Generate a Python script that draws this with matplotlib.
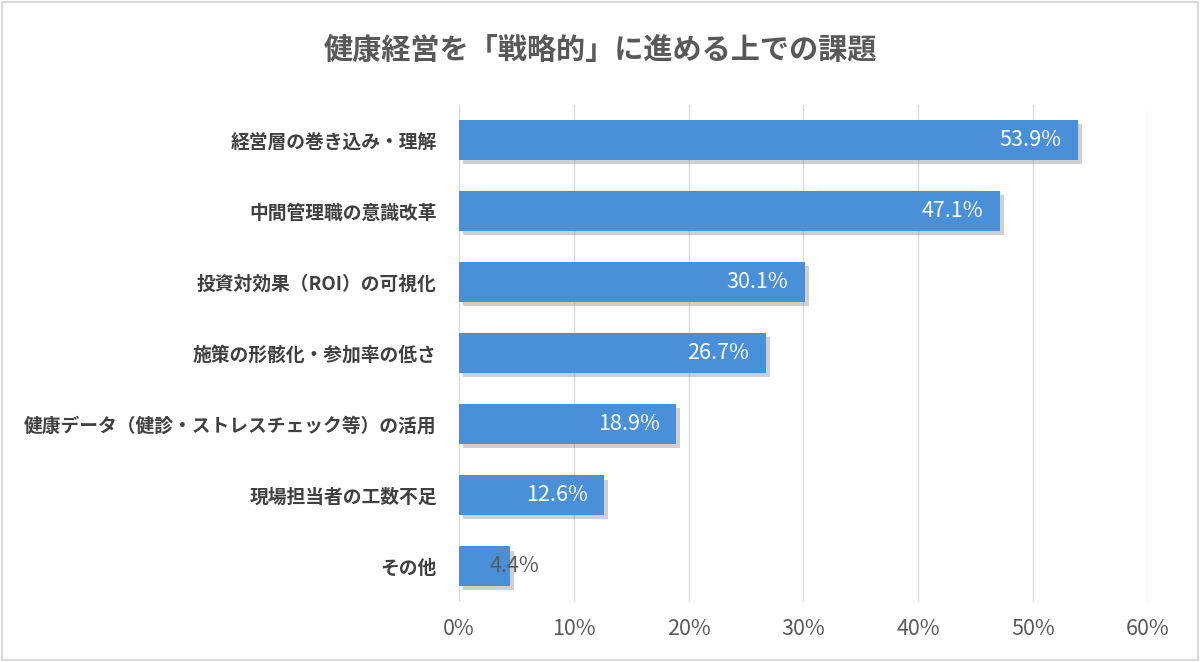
import matplotlib.pyplot as plt
import matplotlib.patheffects as pe

plt.rcParams['font.family'] = ['Noto Sans CJK JP', 'DejaVu Sans']

# data
labels = ['経営層の巻き込み・理解', '中間管理職の意識改革', '投資対効果（ROI）の可視化',
          '施策の形骸化・参加率の低さ', '健康データ（健診・ストレスチェック等）の活用',
          '現場担当者の工数不足', 'その他']
values = [53.9, 47.1, 30.1, 26.7, 18.9, 12.6, 4.4]
xticks = [0, 10, 20, 30, 40, 50, 60]

fig = plt.figure(figsize=(12, 6.62), dpi=100)
ax = fig.add_axes([0.3825, 0.091, 0.574, 0.751])

ypos = list(range(len(labels)))
bars = ax.barh(ypos, values, height=0.56, color='#4a90d9', zorder=3)
for b in bars:
    b.set_path_effects([pe.SimplePatchShadow(offset=(3, -3), shadow_rgbFace='#777777', alpha=0.35),
                        pe.Normal()])

for i, v in enumerate(values):
    if v > 10:
        ax.text(v - 1.4, i, f'{v}%', ha='right', va='center', color='white',
                fontsize=15.5, zorder=5)
    else:
        ax.text(v - 1.7, i, f'{v}%', ha='left', va='center', color='#595959',
                fontsize=15.5, zorder=5)

ax.set_ylim(len(labels) - 0.5, -0.5)
ax.set_xlim(0, 60)
ax.set_xticks(xticks)
ax.set_xticklabels([f'{t}%' for t in xticks], fontsize=15.5, color='#595959')
ax.set_yticks(ypos)
ax.set_yticklabels(labels, fontsize=13.5, fontweight='bold', color='#404040')
ax.tick_params(axis='both', length=0)
ax.tick_params(axis='x', pad=12)
ax.tick_params(axis='y', pad=16)
ax.grid(axis='x', color='#d9d9d9', linewidth=1, zorder=0)
for s in ax.spines.values():
    s.set_visible(False)

fig.text(0.5, 0.925, '健康経営を「戦略的」に進める上での課題', ha='center', va='center',
         fontsize=21, fontweight='bold', color='#595959')

fig.patches.append(plt.Rectangle((0.002, 0.003), 0.996, 0.994, transform=fig.transFigure,
                                 fill=False, edgecolor='#d9d9d9', linewidth=1.5))

fig.savefig('out.png', dpi=100)
